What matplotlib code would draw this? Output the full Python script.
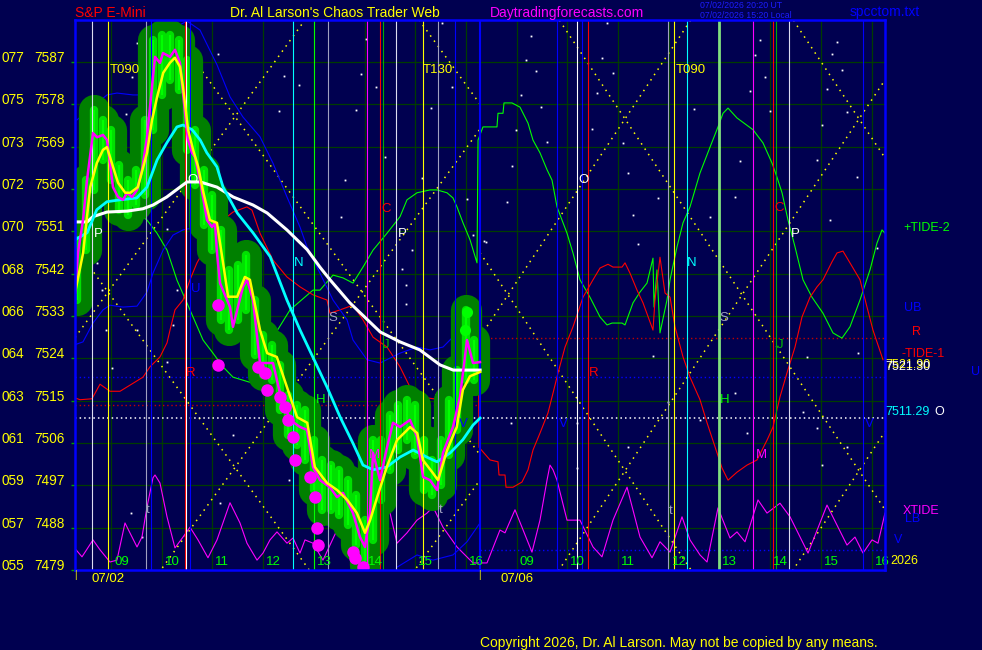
import numpy as np
import matplotlib
matplotlib.use('Agg')
import matplotlib.pyplot as plt
from matplotlib import transforms

BG = '#000050'
GRID = '#003c00'
plt.rcParams['font.family'] = ['Liberation Sans', 'DejaVu Sans']

# ---------------- axis definitions ----------------
# x unit: session hour index (0 = 09:00 on 07/02, 8 = 09:00 on 07/06)
price_levels = [7479, 7488, 7497, 7506, 7515, 7524, 7533, 7542, 7551, 7560, 7569, 7578, 7587]
price_codes = ['055', '057', '059', '061', '063', '064', '066', '068', '070', '072', '073', '075', '077']
hour_ticks = list(range(16))
hour_labels = ['09', '10', '11', '12', '13', '14', '15', '16',
               '09', '10', '11', '12', '13', '14', '15', '16']
date_labels = ['07/02', '07/06']
date_u = [-0.06, 8.0]

# ---------------- price bars (10 minute) ----------------
bar_u = np.arange(48) / 6.0 - 2.0 / 3.0
bar_high = [7549.2, 7561.9, 7576.8, 7574.7, 7572.6, 7565.1, 7561.9, 7564.1, 7574.7, 7591.7,
            7592.8, 7592.8, 7591.7, 7587.4, 7572.6, 7564.1, 7558.7, 7551.3, 7542.8, 7543.9,
            7546.0, 7536.4, 7529.0, 7526.9, 7522.6, 7516.2, 7514.1, 7513.0, 7506.7, 7502.4,
            7501.3, 7500.3, 7498.1, 7495.0, 7489.6, 7506.7, 7506.7, 7512.0, 7514.1, 7515.2,
            7514.1, 7506.7, 7502.4, 7506.7, 7515.2, 7521.5, 7534.3, 7527.9]
bar_low = [7536.4, 7547.1, 7559.8, 7566.2, 7561.9, 7555.6, 7554.5, 7556.6, 7558.7, 7572.6,
           7580.0, 7583.2, 7581.1, 7568.3, 7560.9, 7552.4, 7547.1, 7532.2, 7530.0, 7532.2,
           7534.3, 7524.7, 7520.5, 7519.4, 7513.0, 7507.7, 7505.6, 7502.4, 7496.0, 7491.8,
           7491.8, 7490.7, 7488.6, 7484.3, 7480.1, 7485.4, 7493.9, 7500.3, 7504.5, 7506.7,
           7503.5, 7496.0, 7495.0, 7497.1, 7503.5, 7508.8, 7519.4, 7519.4]

close_u = [-0.710, -0.651, -0.552, -0.473, -0.355, -0.276, -0.158, -0.079, -0.020, 0.039,
           0.138, 0.237, 0.316, 0.414, 0.513, 0.611, 0.710, 0.809, 0.868, 0.966,
           1.026, 1.164, 1.262, 1.361, 1.460, 1.519, 1.598, 1.657, 1.755, 1.815,
           1.893, 1.992, 2.051, 2.091, 2.150, 2.347, 2.406, 2.603, 2.682, 2.801,
           2.939, 3.195, 3.333, 3.531, 3.728, 3.866, 3.984, 4.122, 4.319, 4.458,
           4.576, 4.773, 4.911, 5.010, 5.108, 5.168, 5.306, 5.444, 5.562, 5.700,
           5.897, 6.036, 6.154, 6.292, 6.430, 6.548, 6.745, 6.883, 7.022, 7.140, 7.278]
close_p = [7537.9, 7546.4, 7553.4, 7561.9, 7571.9, 7571.0, 7571.5, 7570.4, 7565.5, 7560.4,
           7558.3, 7557.7, 7559.2, 7558.3, 7559.8, 7564.0, 7571.0, 7581.7, 7588.1, 7586.8,
           7588.9, 7588.1, 7589.6, 7586.8, 7576.2, 7570.4, 7567.7, 7566.8, 7561.9, 7558.3,
           7553.4, 7551.9, 7552.8, 7546.4, 7540.0, 7534.9, 7530.7, 7539.2, 7540.7, 7536.4,
           7523.0, 7523.0, 7516.6, 7510.9, 7509.4, 7508.8, 7500.9, 7498.1, 7496.6, 7494.5,
           7495.4, 7491.1, 7486.0, 7483.9, 7491.1, 7503.9, 7498.1, 7505.1, 7510.3, 7509.4,
           7510.9, 7507.3, 7498.8, 7498.1, 7496.0, 7503.9, 7509.4, 7515.8, 7527.9, 7523.0, 7523.2]

fast_u = [-0.71, -0.55, -0.41, -0.28, -0.16, -0.08, 0.04, 0.14, 0.28, 0.38, 0.53, 0.71, 0.81,
          0.91, 1.03, 1.16, 1.26, 1.36, 1.42, 1.52, 1.62, 1.72, 1.81, 1.95, 2.09, 2.21, 2.31,
          2.49, 2.64, 2.74, 2.94, 3.08, 3.27, 3.47, 3.67, 3.87, 4.02, 4.26, 4.46, 4.66, 4.85,
          5.01, 5.11, 5.25, 5.44, 5.64, 5.90, 6.04, 6.15, 6.35, 6.45, 6.63, 6.82, 6.94, 7.08, 7.28]
fast_p = [7537.9, 7546.4, 7560.4, 7565.5, 7568.3, 7568.9, 7564.7, 7561.3, 7559.2, 7559.2,
          7560.4, 7567.7, 7574.7, 7579.6, 7584.7, 7586.8, 7587.9, 7586.0, 7581.7, 7572.6,
          7568.3, 7564.7, 7559.8, 7553.4, 7552.8, 7544.3, 7537.1, 7537.1, 7541.3, 7540.7,
          7530.0, 7525.1, 7524.3, 7517.9, 7511.5, 7510.3, 7500.9, 7497.5, 7496.0, 7493.9,
          7491.1, 7486.9, 7489.6, 7494.5, 7500.9, 7506.6, 7509.4, 7508.1, 7502.4, 7499.6,
          7498.1, 7504.5, 7509.4, 7517.3, 7520.2, 7521.1]

slow_u = [-0.71, -0.47, -0.36, -0.08, 0.32, 0.63, 0.83, 1.10, 1.36, 1.50, 1.76, 2.09, 2.41,
          2.80, 3.08, 3.47, 3.87, 4.12, 4.32, 4.71, 5.31, 5.70, 6.09, 6.49, 6.75, 7.28]
slow_p = [7553.0, 7553.0, 7554.1, 7555.1, 7555.3, 7555.8, 7556.6, 7558.3, 7560.4, 7561.5,
          7561.5, 7560.4, 7558.3, 7556.6, 7554.9, 7551.3, 7547.1, 7543.4, 7540.7, 7535.8,
          7529.6, 7527.5, 7525.8, 7522.6, 7521.5, 7521.5]

mid_u = [-0.71, -0.47, -0.28, -0.08, 0.18, 0.51, 0.71, 0.91, 1.10, 1.30, 1.42, 1.60, 1.76,
         1.89, 2.09, 2.21, 2.49, 2.80, 3.14, 3.47, 3.73, 3.98, 4.26, 4.52, 4.77, 4.97, 5.17,
         5.44, 5.70, 5.96, 6.23, 6.43, 6.69, 6.94, 7.14, 7.28]
mid_p = [7549.2, 7550.7, 7555.6, 7557.3, 7557.7, 7558.1, 7560.4, 7566.2, 7569.8, 7573.2,
         7573.6, 7572.6, 7570.4, 7567.7, 7564.7, 7560.4, 7554.9, 7550.7, 7545.6, 7536.4,
         7530.0, 7524.3, 7517.9, 7511.5, 7506.0, 7501.3, 7500.3, 7500.9, 7503.0, 7504.5,
         7503.0, 7502.0, 7503.9, 7506.7, 7509.8, 7511.3]

dot_u = [2.110, 2.110, 2.899, 3.037, 3.077, 3.333, 3.432, 3.491, 3.590, 3.629, 3.925, 4.024,
         4.063, 4.083, 4.773, 4.812, 4.970]
dot_p = [7535.3, 7522.6, 7522.2, 7520.9, 7517.3, 7515.8, 7513.6, 7510.9, 7507.3, 7502.4,
         7498.8, 7494.5, 7488.0, 7484.3, 7482.8, 7481.6, 7479.6]
hot_u = [7.022, 6.982]
hot_p = [7533.9, 7530.0]

# ---------------- tides ----------------
tide2_u = [-0.710, -0.375, 0.178, 0.710, 0.907, 1.105, 1.302, 1.558, 1.815, 2.012, 2.209, 2.406,
           2.742, 2.899, 3.077, 3.531, 3.984, 4.122, 4.379, 4.576, 4.773, 4.970, 5.168, 5.444,
           5.700, 5.838, 6.036, 6.292, 6.430, 6.627, 6.745, 6.824, 6.943, 7.081, 7.219, 7.239,
           7.337, 7.613, 7.633, 7.732, 7.751, 7.909, 8.067, 8.225, 8.323, 8.461, 8.600, 8.698,
           8.797, 8.994, 9.112, 9.250, 9.447, 9.645, 9.783, 9.882, 10.079, 10.138, 10.296, 10.434,
           10.572, 10.690, 10.710, 10.769, 10.828, 10.966, 11.026, 11.164, 11.282, 11.420, 11.617,
           11.815, 11.972, 12.071, 12.170, 12.347, 12.663, 12.860, 13.038, 13.136, 13.235, 13.353,
           13.491, 13.649, 13.826, 14.043, 14.240, 14.418, 14.575, 14.773, 14.970, 15.108, 15.207,
           15.266]
tide2_p = [7559.8, 7559.8, 7557.7, 7553.4, 7550.6, 7547.0, 7540.6, 7534.3, 7527.9, 7525.1, 7522.2,
           7520.0, 7518.9, 7520.6, 7526.4, 7534.3, 7538.5, 7538.5, 7541.7, 7541.1, 7540.0, 7543.4,
           7547.0, 7550.6, 7554.1, 7557.7, 7559.2, 7559.8, 7559.8, 7559.2, 7558.1, 7556.2, 7552.8,
           7549.2, 7544.3, 7570.4, 7573.2, 7573.2, 7576.1, 7576.1, 7578.3, 7578.3, 7577.4, 7574.0,
           7570.4, 7567.7, 7564.1, 7561.9, 7556.2, 7550.6, 7546.4, 7540.7, 7537.0, 7532.8, 7531.1,
           7531.5, 7531.5, 7531.1, 7535.8, 7538.1, 7540.0, 7545.3, 7534.9, 7542.8, 7529.4, 7536.4,
           7540.7, 7547.7, 7552.8, 7556.2, 7563.4, 7568.9, 7573.2, 7576.1, 7577.2, 7575.1, 7572.6,
           7569.8, 7565.5, 7562.5, 7559.2, 7553.4, 7547.7, 7540.7, 7537.0, 7533.6, 7529.4, 7528.3,
           7530.7, 7536.4, 7542.8, 7548.5, 7551.3, 7550.6]

tide1_u = [-0.710, -0.611, -0.375, -0.217, -0.020, 0.178, 0.375, 0.631, 0.769, 0.966, 1.105,
           1.164, 1.262, 1.420, 1.558, 1.696, 1.953, 2.209, 2.406, 2.682, 2.781, 2.939, 3.195,
           3.471, 3.728, 3.984, 4.260, 4.319, 4.517, 4.773, 4.970, 5.168, 5.444, 5.700, 5.897,
           6.233, 6.489, 6.686, 6.943, 7.219, 7.239, 7.258, 7.475, 7.633, 7.653, 7.771, 7.791,
           7.929, 8.106, 8.225, 8.323, 8.461, 8.619, 8.718, 8.817, 8.955, 9.112, 9.310, 9.507,
           9.645, 9.803, 9.901, 10.079, 10.138, 10.237, 10.375, 10.493, 10.690, 10.730, 10.828,
           10.927, 11.026, 11.124, 11.282, 11.420, 11.617, 11.756, 11.953, 12.051, 12.170, 12.347,
           12.544, 12.742, 12.939, 13.057, 13.195, 13.333, 13.491, 13.629, 13.787, 13.925, 14.043,
           14.220, 14.319, 14.437, 14.575, 14.773, 14.911, 15.029, 15.226]
tide1_p = [7515.6, 7515.2, 7515.4, 7518.5, 7517.0, 7517.0, 7518.3, 7520.0, 7522.2, 7524.3, 7527.3,
           7530.0, 7534.3, 7536.4, 7540.7, 7544.3, 7549.2, 7553.4, 7555.1, 7556.2, 7555.5, 7550.6,
           7544.9, 7541.3, 7539.2, 7537.5, 7536.4, 7533.6, 7534.3, 7535.3, 7532.2, 7528.5, 7526.4,
           7522.2, 7517.9, 7515.6, 7515.2, 7515.8, 7518.8, 7530.7, 7531.5, 7505.1, 7502.4, 7502.0,
           7499.2, 7499.2, 7496.6, 7496.6, 7497.7, 7500.3, 7504.5, 7508.1, 7512.4, 7516.6, 7520.9,
           7526.4, 7530.7, 7537.0, 7540.7, 7543.2, 7544.0, 7543.4, 7543.4, 7544.3, 7542.1, 7538.5,
           7535.8, 7530.0, 7536.4, 7545.5, 7537.9, 7537.0, 7530.7, 7524.3, 7520.0, 7515.2, 7510.3,
           7503.9, 7500.7, 7498.1, 7499.8, 7501.3, 7502.4, 7506.6, 7509.4, 7515.8, 7520.9, 7526.4,
           7532.8, 7537.0, 7539.2, 7540.7, 7544.5, 7546.4, 7546.8, 7544.3, 7540.7, 7534.9, 7530.0,
           7523.7]

xtide_u = [-0.690, -0.572, -0.355, -0.217, -0.020, 0.118, 0.276, 0.513, 0.611, 0.710, 0.828,
           0.868, 0.966, 1.105, 1.262, 1.420, 1.558, 1.716, 1.913, 2.091, 2.347, 2.544, 2.682,
           2.880, 2.998, 3.136, 3.274, 3.471, 3.590, 3.728, 3.826, 3.984, 4.181, 4.458, 4.655,
           4.852, 5.049, 5.247, 5.444, 5.641, 5.838, 6.036, 6.233, 6.351, 6.548, 6.824, 7.140,
           7.416, 7.672, 7.771, 7.968, 8.303, 8.461, 8.600, 8.658, 8.718, 8.797, 8.994, 9.250,
           9.507, 9.684, 9.901, 10.178, 10.434, 10.671, 10.828, 11.026, 11.262, 11.420, 11.617,
           11.756, 11.972, 12.209, 12.347, 12.505, 12.761, 12.939, 13.195, 13.393, 13.748, 14.122,
           14.516, 14.674, 14.832, 15.010, 15.128, 15.266]
xtide_p = [7483.3, 7481.8, 7485.4, 7483.3, 7480.7, 7481.1, 7489.0, 7483.9, 7486.0, 7492.4, 7498.6,
           7499.2, 7497.5, 7490.3, 7483.7, 7486.0, 7488.1, 7485.4, 7481.6, 7485.4, 7493.3, 7489.0,
           7484.7, 7481.1, 7482.6, 7485.4, 7487.1, 7484.7, 7485.8, 7482.6, 7485.4, 7484.7, 7481.1,
           7487.5, 7494.5, 7495.4, 7489.0, 7489.6, 7493.9, 7484.7, 7486.9, 7489.6, 7491.1, 7492.4,
           7488.1, 7483.9, 7480.5, 7480.5, 7487.5, 7486.9, 7491.8, 7482.8, 7489.6, 7498.1, 7501.3,
           7500.3, 7498.1, 7489.6, 7489.6, 7483.9, 7481.8, 7489.6, 7496.6, 7486.0, 7481.6, 7485.0,
           7482.8, 7490.3, 7485.4, 7482.2, 7480.7, 7492.2, 7485.8, 7487.1, 7485.0, 7493.9, 7491.1,
           7493.2, 7490.3, 7482.6, 7492.8, 7484.3, 7486.0, 7482.6, 7485.4, 7484.7, 7491.1]

ub_u = [-0.671, -0.079, 0.118, 0.434, 0.671, 0.769, 1.164, 1.499, 1.755, 2.091, 2.347, 2.603,
        2.939, 3.195, 3.471, 3.728, 3.866, 4.122, 4.379, 4.655, 4.773, 5.049, 5.306, 5.700,
        6.036, 6.292, 6.548, 6.943, 7.239]
ub_p = [7574.7, 7580.0, 7580.4, 7580.0, 7580.0, 7587.4, 7593.8, 7595.7, 7593.8, 7586.4, 7579.6,
        7575.3, 7571.1, 7565.5, 7558.3, 7551.9, 7547.7, 7542.1, 7536.4, 7532.2, 7527.9, 7523.7,
        7523.0, 7525.1, 7526.4, 7525.8, 7526.4, 7530.7, 7533.6]
lb_u = [-0.710, -0.552, -0.355, -0.158, -0.020, 0.237, 0.513, 0.710, 0.828, 1.026, 1.223,
        1.420, 1.597]
lb_p = [7526.9, 7527.5, 7531.5, 7534.3, 7535.3, 7534.9, 7535.1, 7538.1, 7542.1, 7547.0, 7550.2,
        7551.3, 7551.7]
lb2_u = [5.641, 6.036, 6.351, 6.745, 7.022, 7.278]
lb2_p = [7479.6, 7482.2, 7481.1, 7482.2, 7485.0, 7489.0]

# ---------------- levels ----------------
level_o = 7511.29
level_ub = 7520.0
level_r_day1 = 7514.0
level_r_day2 = 7528.3
level_lb_day2 = 7483.3

# ---------------- vertical time lines ----------------
vline_u = [-0.375, -0.059, 0.690, 0.789, 1.460, 1.489, 1.558, 3.590, 4.004, 4.280, 5.049, 5.306,
           5.355, 5.621, 6.154, 6.450, 6.785, 7.278, 8.797, 9.191, 9.290, 9.408, 10.986, 11.105,
           11.351, 11.992, 12.663, 13.057, 13.116, 13.373, 14.832]
vline_c = ['#dcdcf0', '#ffff00', '#a0a0c0', '#0000ff', '#ff0000', '#ffffff', '#0000ff', '#00ffff',
           '#00ff00', '#a0a0c0', '#ff00ff', '#ff0000', '#00b000', '#dcdcf0', '#ffff00', '#a0a0c0',
           '#0000ff', '#0000ff', '#0000ff', '#ffffff', '#0000ff', '#ff0000', '#a0a0c0', '#ffff00',
           '#00ffff', '#80e080', '#ff00ff', '#ff0000', '#00b000', '#dcdcf0', '#0000ff']
vline_w = [0.8] * len(vline_u)
vline_w[17] = 1.5
vline_w[25] = 2.0

# ---------------- letter marks ----------------
mark_text = ['P', 'O', 'U', 'N', 'C', 'P', 'S', 'H', 'J', 'R', 'M', 't', 't', 'V',
             'O', 'N', 'C', 'P', 'S', 'J', 'R', 'H', 'V', 'V', 'M', 't']
mark_u = [-0.256, 1.598, 1.677, 3.708, 5.424, 5.739, 4.379, 4.142, 5.424, 1.578, 5.187, 0.730,
          6.508, 6.943, 9.310, 11.459, 13.175, 13.491, 12.091, 13.195, 9.526, 12.110, 8.915,
          14.950, 12.820, 11.045]
mark_p = [7550.4, 7561.9, 7538.8, 7544.3, 7555.7, 7550.4, 7532.6, 7515.2, 7526.8, 7520.9,
          7503.5, 7491.8, 7491.8, 7510.0, 7561.9, 7544.3, 7556.0, 7550.4, 7532.6, 7526.8,
          7520.9, 7515.2, 7510.0, 7510.0, 7503.5, 7491.6]
mark_c = ['#ffffff', '#ffffff', '#0000ff', '#00ffff', '#ff0000', '#ffffff', '#a0a0c0', '#00ff00',
          '#00c000', '#ff0000', '#ff00ff', '#a0a0c0', '#a0a0c0', '#0000ff',
          '#ffffff', '#00ffff', '#ff0000', '#ffffff', '#a0a0c0', '#00c000', '#ff0000', '#00ff00',
          '#0000ff', '#0000ff', '#ff00ff', '#a0a0c0']
cycle_text = ['T090', 'T130', 'T090']
cycle_u = [-0.02, 6.154, 11.14]
cycle_p = 7585.3

# ---------------- time/price square lattice ----------------
lat_seg = [(-0.71, 7.278), (7.278, 15.266)]
lat_center = [-0.059, 7.830]
lat_half = [2.505, 2.308]
lat_mid = [7538.1, 7537.5]
lat_range = [37.3, 37.4]

# ---------------- background stars ----------------
star_u = [0.513, 2.110, 3.412, 3.708, 4.931, 5.030, 5.227, 6.529, 6.726, 6.312, 4.832, 3.314,
          0.296, 0.414, 8.284, 8.185, 8.383, 8.087, 8.481, 9.783, 9.684, 9.901, 9.586, 11.499,
          12.801, 12.702, 12.899, 12.603, 12.998, 14.319, 14.220, 14.418, 14.122, 14.517, 7.988,
          8.600, 7.909, 7.810, 7.396, 9.487, 10.099, 10.197, 10.789, 10.296, 10.394, 11.815,
          12.406, 12.308, 14.024, 13.925, 14.714, 14.181, 15.108, 10.690, 10.986, 9.191, 7.889,
          11.617, 12.308, 13.727, 14.733, 13.649, 14.517, 13.925, 14.024, 12.544, 10.197, 9.191,
          -0.276, -0.178, -0.099, 0.020, 0.513, 1.105, 1.302, 1.223, 1.105, 0.394, 0.611, 3.511,
          2.150, 2.406, 3.136, 4.477, 4.615, 5.404, 4.536, 5.937, 5.739, 5.818, 5.818, 7.022,
          7.140, 7.357, 6.134]
star_p = [7591.0, 7588.7, 7584.1, 7582.1, 7584.5, 7591.9, 7581.7, 7595.3, 7581.7, 7577.2, 7576.8,
          7576.6, 7575.9, 7583.8, 7592.5, 7587.4, 7585.1, 7580.0, 7577.4, 7595.3, 7587.9, 7584.7,
          7580.4, 7577.0, 7591.7, 7588.5, 7583.8, 7580.8, 7576.6, 7591.3, 7588.7, 7585.3, 7581.3,
          7576.4, 7572.6, 7570.0, 7564.9, 7557.2, 7548.7, 7572.8, 7569.8, 7563.4, 7558.1, 7554.5,
          7548.3, 7554.1, 7566.0, 7558.3, 7573.6, 7566.2, 7562.5, 7553.4, 7547.5, 7524.5, 7514.7,
          7510.2, 7510.2, 7510.9, 7516.6, 7524.3, 7525.1, 7512.6, 7505.2, 7509.2, 7501.3, 7508.1,
          7505.2, 7500.7, 7544.3, 7538.5, 7530.0, 7521.9, 7530.0, 7551.5, 7538.5, 7531.1, 7523.2,
          7491.1, 7486.0, 7498.1, 7493.3, 7507.7, 7510.9, 7491.8, 7561.9, 7566.8, 7554.1, 7547.0,
          7543.0, 7539.6, 7535.6, 7557.9, 7550.2, 7548.9, 7562.3]

# =============== drawing ===============
W, H = 982, 650
fig = plt.figure(figsize=(W / 100, H / 100), dpi=100, facecolor=BG)
ax = fig.add_axes([75 / W, 80 / H, 810 / W, 550 / H])
ax.set_facecolor(BG)
X0, X1 = -0.71, 15.266
ax.set_xlim(X0, X1)
ax.set_ylim(7479, 7595.93)
for s in ax.spines.values():
    s.set_color('#0000ff')
    s.set_linewidth(1.8)
    s.set_zorder(10)
ax.set_xticks([])
ax.set_yticks(price_levels)
ax.tick_params(axis='y', colors='#00a000', length=3, width=1, labelleft=False)

for p in price_levels:
    ax.axhline(p, color=GRID, lw=0.9, zorder=0.5)
for u in hour_ticks:
    ax.axvline(u, color=GRID, lw=0.9, zorder=0.5)

ax.plot(star_u, star_p, ls='none', marker='s', ms=1.3, mec='none', mfc='#ffffff', zorder=1)

# lattice
for (s0, s1), uc, hh, pm, rr in zip(lat_seg, lat_center, lat_half, lat_mid, lat_range):
    us = np.linspace(s0, s1, 50)
    for k in range(-4, 5):
        uk = uc + 2 * k * hh
        for sgn in (1, -1):
            ax.plot(us, pm + sgn * (us - uk) * rr / hh, color='#ffff00', lw=1.1,
                    ls=(0, (1, 3.2)), zorder=1.5)

# horizontal dotted levels
ax.plot([X0, X1], [level_o, level_o], color='#ffffff', lw=1.1, ls=(0, (1, 2)), zorder=1.6)
ax.plot([X0, X1], [level_ub, level_ub], color='#0000ff', lw=1.0, ls=(0, (1, 2)), zorder=1.6)
ax.plot([X0, 7.24], [level_r_day1, level_r_day1], color='#c00000', lw=1.0, ls=(0, (1, 2)), zorder=1.6)
ax.plot([7.24, X1], [level_r_day2, level_r_day2], color='#c00000', lw=1.0, ls=(0, (1, 2)), zorder=1.6)
ax.plot([7.28, X1], [level_lb_day2, level_lb_day2], color='#0000ff', lw=1.0, ls=(0, (1, 2)), zorder=1.6)

# tides and bands
ax.plot(tide2_u, tide2_p, color='#00ff00', lw=0.8, zorder=2)
ax.plot(tide1_u, tide1_p, color='#ff0000', lw=0.8, zorder=2)
ax.plot(xtide_u, xtide_p, color='#ff00ff', lw=0.8, zorder=2)
ax.plot(ub_u, ub_p, color='#0000ff', lw=0.8, zorder=2)
ax.plot(lb_u, lb_p, color='#0000ff', lw=0.8, zorder=2)
ax.plot(lb2_u, lb2_p, color='#0000ff', lw=0.8, zorder=2)

# price bars as blobs
for u, hi, lo in zip(bar_u, bar_high, bar_low):
    ax.plot([u, u], [lo, hi], color='#008000', lw=22.5, solid_capstyle='round', zorder=3)
for u, hi, lo in zip(bar_u, bar_high, bar_low):
    ax.plot([u, u], [lo, hi], color='#00e000', lw=6.0, solid_capstyle='round', zorder=3.1)
for u, hi, lo in zip(bar_u, bar_high, bar_low):
    ax.plot([u, u], [lo, hi], color='#00ff00', lw=1.5, solid_capstyle='butt', zorder=3.2)

for u, c, w in zip(vline_u, vline_c, vline_w):
    ax.axvline(u, color=c, lw=w, zorder=3.5)

ax.plot(slow_u, slow_p, color='#ffffff', lw=2.2, zorder=4)
ax.plot(mid_u, mid_p, color='#00ffff', lw=2.0, zorder=4.1)
ax.plot(close_u, close_p, color='#ff00ff', lw=1.8, zorder=4.5)
ax.plot(fast_u, fast_p, color='#ffff00', lw=1.8, zorder=4.6)
ax.plot(dot_u, dot_p, ls='none', marker='o', ms=9, mfc='#ff00ff', mec='none', zorder=5)
ax.plot(hot_u, hot_p, ls='none', marker='o', ms=8, mfc='#00ff00', mec='none', zorder=5)

FS = 9.5
for t, u, p, c in zip(mark_text, mark_u, mark_p, mark_c):
    ax.text(u, p, t, color=c, fontsize=FS, ha='center', va='center', zorder=3.6)
for t, u in zip(cycle_text, cycle_u):
    ax.text(u, cycle_p, t, color='#ffff00', fontsize=FS, ha='left', va='center', zorder=3.6)

# hour labels along bottom
for u, lab in zip(hour_ticks, hour_labels):
    ax.text(u + 0.06, 7480.7, lab, color='#00ff00', fontsize=FS, ha='left', va='center',
            zorder=6, clip_on=False)

# y labels
trans_y = transforms.blended_transform_factory(fig.transFigure, ax.transData)
off = transforms.ScaledTranslation(0, 4 / 100, fig.dpi_scale_trans)
for code, p in zip(price_codes, price_levels):
    ax.text(2 / W, p, code, transform=trans_y + off, color='#ffff00', fontsize=9.8,
            ha='left', va='center', clip_on=False)
    ax.text(34 / W, p, str(p), transform=trans_y + off, color='#ffff00', fontsize=9.8,
            ha='left', va='center', clip_on=False)

# dates below
trans_x = transforms.blended_transform_factory(ax.transData, fig.transFigure)
for u, lab in zip(date_u, date_labels):
    ax.text(u, 1 - 579 / H, lab, transform=trans_x, color='#ffff00', fontsize=FS,
            ha='center', va='center', clip_on=False)


def ftext(x, y, s, c, fs=FS, **kw):
    fig.text(x / W, 1 - y / H, s, color=c, fontsize=fs, ha='left', va='center', **kw)


ftext(74, 575, '|', '#ffff00', 7)
ftext(478, 575, '|', '#ffff00', 7)

# header
ftext(75, 13, 'S&P E-Mini', '#ff0000', 10)
ftext(230, 13, "Dr. Al Larson's Chaos Trader Web", '#ffff00', 10)
ftext(490, 13, 'Daytradingforecasts.com', '#ff00ff', 10)
ftext(700, 5, '07/02/2026 20:20 UT', '#1c1cff', 6.3)
ftext(700, 15, '07/02/2026 15:20 Local', '#1c1cff', 6.3)
ftext(850, 12, 'spcctom.txt', '#0000ff', 10)
ftext(480, 643, 'Copyright 2026, Dr. Al Larson. May not be copied by any means.', '#ffff00', 10)

# right side labels
RS = 9
ftext(903, 228, '+TIDE-2', '#00ff00', RS)
ftext(904, 308, 'UB', '#0000ff', RS)
ftext(912, 332, 'R', '#ff0000', RS)
ftext(902, 354, '-TIDE-1', '#ff0000', RS)
ftext(885, 365, '7521.90', '#ffff00', RS)
ftext(885, 367, '7521.30', '#ffffff', RS)
ftext(971, 372, 'U', '#0000ff', RS)
ftext(885, 412, '7511.29', '#00ffff', RS)
ftext(934, 412, 'O', '#ffffff', RS)
ftext(903, 511, 'XTIDE', '#ff00ff', RS)
ftext(905, 519, 'LB', '#0000ff', RS)
ftext(894, 540, 'V', '#0000ff', RS)
ftext(890, 561, '2026', '#ffff00', RS)

fig.savefig('out.png', dpi=100, facecolor=BG)
